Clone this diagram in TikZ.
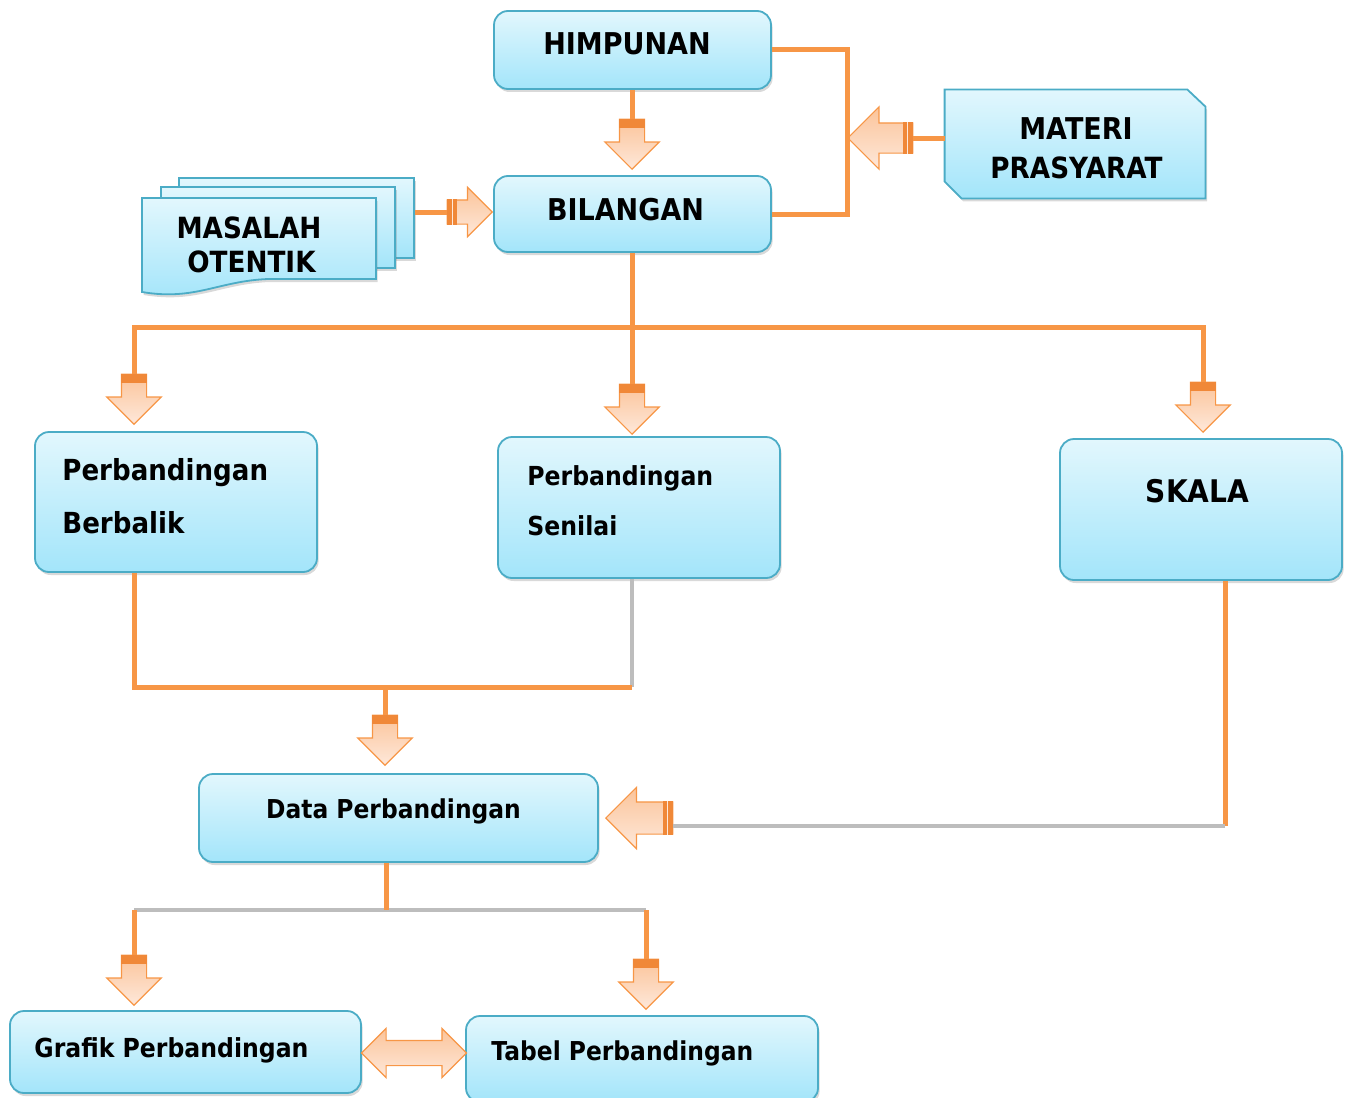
\documentclass[tikz,border=0pt]{standalone}
\usepackage{fontspec}
\newfontfamily\lbl[FakeStretch=0.9]{DejaVu Sans}
\usetikzlibrary{shapes.arrows,shadows,calc}
\definecolor{orng}{HTML}{F79646}
\definecolor{orngD}{HTML}{F08838}
\definecolor{boxT}{HTML}{E2F7FD}
\definecolor{boxB}{HTML}{A3E5FA}
\definecolor{boxE}{HTML}{4BACC6}
\definecolor{pkT}{HTML}{FBC49A}
\definecolor{pkB}{HTML}{FEE8DA}
\definecolor{gln}{HTML}{BDBDBD}
\newcommand\fsz[1]{\fontsize{#1}{#1}\selectfont}
\begin{document}
\begin{tikzpicture}[x=0.5pt,y=-0.5pt,
  box/.style={draw=boxE, line width=0.9pt, rounded corners=7pt, top color=boxT, bottom color=boxB,
    drop shadow={shadow xshift=0.8pt, shadow yshift=-1.5pt, opacity=0.3}, inner sep=0pt},
  page/.style={draw=boxE, line width=0.9pt, top color=boxT, bottom color=boxB, inner sep=0pt,
    drop shadow={shadow xshift=0.8pt, shadow yshift=-1.5pt, opacity=0.3}},
  txt/.style={inner sep=0pt, text=black},
  oline/.style={draw=orng, line width=2.5pt},
  gline/.style={draw=gln, line width=2.2pt},
  barrow/.style={single arrow, draw=orng, line width=0.6pt, top color=pkT, bottom color=pkB,
    inner sep=0pt, anchor=tip},
  dsize/.style={inner sep=6pt, single arrow head extend=7.25pt, minimum height=25pt, minimum width=25pt, shape border rotate=270},
  lsizeA/.style={inner ysep=7.25pt, single arrow head extend=8pt, minimum height=32.5pt, shape border rotate=180},
  lsizeB/.style={inner ysep=7.75pt, single arrow head extend=7.25pt, minimum height=33.5pt, shape border rotate=180},
  rsize/.style={inner ysep=5.75pt, single arrow head extend=6.25pt, minimum height=22.5pt, shape border rotate=0},
]
\useasboundingbox (0,0) rectangle (1352,1097);

% ---- boxes ----
\node[box, minimum width=138.5pt, minimum height=39pt] (him) at (632.5,50) {};
\node[box, minimum width=138.5pt, minimum height=38pt] (bil) at (632.5,214) {};
\node[inner sep=0pt, minimum width=130pt, minimum height=54pt] (mat) at (1075,144) {};
\path[page] (mat.north west) -- ($(mat.north east)+(-18,0)$) -- ($(mat.north east)+(0,17)$)
  -- (mat.south east) -- ($(mat.south west)+(17,0)$) -- ($(mat.south west)+(0,-17)$) -- cycle;
\node[page, minimum width=117.5pt, minimum height=40pt] (mas3) at (296.5,218) {};
\node[page, minimum width=117pt, minimum height=40.5pt] (mas2) at (278,227.5) {};
\path[page] (142,198) -- (376,198) -- (376,279) -- (268,279)
  .. controls (218,281) and (195,301) .. (142,292) -- cycle;
\node[box, minimum width=141pt, minimum height=70pt] (pb) at (176,502) {};
\node[box, minimum width=141pt, minimum height=70.5pt] (ps) at (639,507.5) {};
\node[box, minimum width=141pt, minimum height=70.5pt] (sk) at (1201,509.5) {};
\node[box, minimum width=199.5pt, minimum height=44pt] (dp) at (398.5,818) {};
\node[box, minimum width=175.5pt, minimum height=41pt] (gp) at (185.5,1052) {};
\node[box, minimum width=176pt, minimum height=43pt] (tp) at (642,1059) {};

% ---- texts ----
\node[txt, font=\lbl\bfseries\fsz{15}, anchor=base] (t1) at (627,55) {HIMPUNAN};
\node[txt, font=\lbl\bfseries\fsz{15}, anchor=base] (t2) at (625.5,220) {BILANGAN};
\node[txt, font=\lbl\bfseries\fsz{15}, anchor=base] (t3) at (1076,139) {MATERI};
\node[txt, font=\lbl\bfseries\fsz{14.6}, anchor=base] (t4) at (1076.5,178) {PRASYARAT};
\node[txt, font=\lbl\bfseries\fsz{14.6}, anchor=base] (t5) at (249,238) {MASALAH};
\node[txt, font=\lbl\bfseries\fsz{14.6}, anchor=base] (t6) at (251.5,272) {OTENTIK};
\node[txt, font=\lbl\bfseries\fsz{14.5}, anchor=base west] (t7) at (62,480) {Perbandingan};
\node[txt, font=\lbl\bfseries\fsz{14.5}, anchor=base west] (t8) at (62,533) {Berbalik};
\node[txt, font=\lbl\bfseries\fsz{13.1}, anchor=base west] (t9) at (527,485) {Perbandingan};
\node[txt, font=\lbl\bfseries\fsz{13.1}, anchor=base west] (t10) at (527,535) {Senilai};
\node[txt, font=\lbl\bfseries\fsz{15.6}, anchor=base] (t11) at (1197.5,502) {SKALA};
\node[txt, font=\lbl\bfseries\fsz{13}, anchor=base] (t12) at (393.5,818) {Data Perbandingan};
\node[txt, font=\lbl\bfseries\fsz{13.1}, anchor=base west] (t13) at (34,1057) {Grafik Perbandingan};
\node[txt, font=\lbl\bfseries\fsz{13}, anchor=base west] (t14) at (491,1060) {Tabel Perbandingan};

% ---- block arrows ----
\node[barrow, dsize] (a1) at (632,170) {};
\node[barrow, lsizeA] (a2) at (847,138) {};
\node[barrow, rsize] (a3) at (493,212) {};
\node[barrow, dsize] (a4) at (134,425) {};
\node[barrow, dsize] (a5) at (632,435) {};
\node[barrow, dsize] (a6) at (1203,433) {};
\node[barrow, dsize] (a7) at (385,766) {};
\node[barrow, lsizeB] (a8) at (605,818) {};
\node[barrow, dsize] (a9) at (134,1006) {};
\node[barrow, dsize] (a10) at (646,1010) {};
\node[double arrow, draw=orng, line width=0.6pt, top color=pkT, bottom color=pkB, inner sep=0pt,
  inner ysep=6pt, double arrow head extend=6pt, minimum height=52.5pt] (a11) at (414,1053) {};

% ---- bands at arrow tails ----
\foreach \a in {a1,a4,a5,a6,a7,a9,a10}
  \fill[orngD] (\a.before tail) rectangle ($(\a.after tail)+(0,9)$);
\foreach \a in {a2,a8}{
  \fill[orngD] (\a.before tail) rectangle ($(\a.after tail)+(-10,0)$);
  \draw[pkB, line width=0.8pt] ($(\a.before tail)+(-6,0)$) -- ($(\a.after tail)+(-6,0)$);
}
\fill[orngD] (a3.before tail) rectangle ($(a3.after tail)+(10,0)$);
\draw[pkB, line width=0.8pt] ($(a3.before tail)+(6,0)$) -- ($(a3.after tail)+(6,0)$);

% ---- connectors ----
\coordinate (hb) at (632,327);
\coordinate (jd) at (632,687);
\coordinate (skc) at (1225,826);
\coordinate (jg) at (386,910);

\draw[oline] (him.south -| a1.tip) -- (a1.tail);
\draw[oline] (him.east) -| (a2.tip) |- (bil.east);
\draw[oline] (mat.west |- a2.tail) -- (a2.tail);
\draw[oline] (mas3.east |- a3.tail) -- (a3.tail);
\draw[oline] (bil.south -| a5.tip) -- (a5.tail);
\draw[oline] (a4.tail) |- (hb) -| (a6.tail);
\draw[gline] (ps.south -| a5.tip) -- (jd);
\draw[oline] (pb.south -| a4.tip) |- (jd);
\draw[oline] (a7.tail |- jd) -- (a7.tail);
\draw[oline] (sk.south -| skc) -- (skc);
\draw[gline] (skc) -- (a8.tail |- skc);
\draw[gline] (a9.tail |- jg) -- (a10.tail |- jg);
\draw[oline] (dp.south -| jg) -- (jg);
\draw[oline] (a9.tail |- jg) -- (a9.tail);
\draw[oline] (a10.tail |- jg) -- (a10.tail);
\end{tikzpicture}
\end{document}
